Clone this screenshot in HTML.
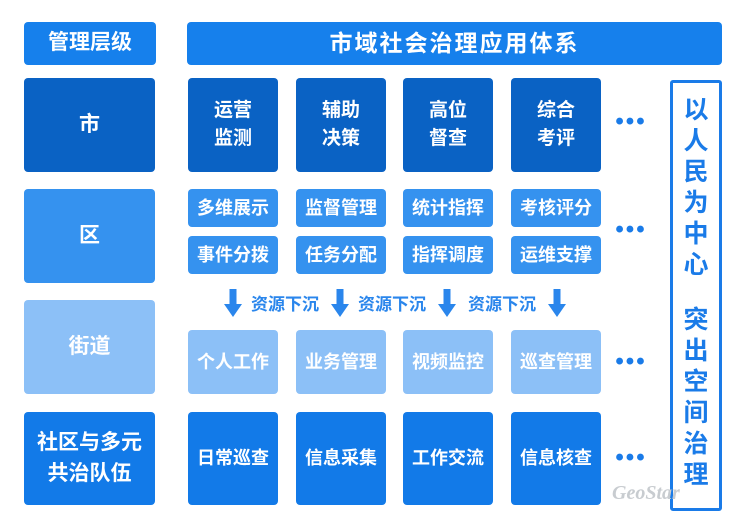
<!DOCTYPE html>
<html><head><meta charset="utf-8"><style>
body{margin:0;width:740px;height:521px;background:#fff;position:relative;overflow:hidden;font-family:"Liberation Sans","Noto Sans CJK SC",sans-serif;font-weight:bold}
.b{position:absolute;color:#fff;display:flex;align-items:center;justify-content:center;text-align:center;border-radius:4px;line-height:1.45}
.d{position:absolute;width:34px;text-align:center;color:#1a7be8;font-size:24px;letter-spacing:2px}
.a{position:absolute;top:289px;width:18px;height:28px}
.t{position:absolute;top:290px;color:#2a86ec;font-size:17px}
</style></head><body>
<div class="b" style="left:24px;top:22px;width:132px;height:43px;background:#1680ec;font-size:21px">管理层级</div>
<div class="b" style="left:187px;top:22px;width:535px;height:43px;background:#1680ec;font-size:23px;letter-spacing:2px">市域社会治理应用体系</div>

<div class="b" style="left:24px;top:78px;width:131px;height:94px;background:#0a62c4;font-size:21px">市</div>
<div class="b" style="left:24px;top:189px;width:131px;height:94px;background:#3592ef;font-size:21px">区</div>
<div class="b" style="left:24px;top:300px;width:131px;height:94px;background:#8cc0f7;font-size:21px">街道</div>
<div class="b" style="left:24px;top:412px;width:131px;height:93px;background:#127ae8;font-size:21px">社区与多元<br>共治队伍</div>

<div class="b" style="left:188px;top:78px;width:90px;height:94px;background:#0a62c4;font-size:19px">运营<br>监测</div>
<div class="b" style="left:296px;top:78px;width:90px;height:94px;background:#0a62c4;font-size:19px">辅助<br>决策</div>
<div class="b" style="left:403px;top:78px;width:90px;height:94px;background:#0a62c4;font-size:19px">高位<br>督查</div>
<div class="b" style="left:511px;top:78px;width:90px;height:94px;background:#0a62c4;font-size:19px">综合<br>考评</div>

<div class="b" style="left:188px;top:189px;width:90px;height:38px;background:#3592ef;font-size:18px">多维展示</div>
<div class="b" style="left:296px;top:189px;width:90px;height:38px;background:#3592ef;font-size:18px">监督管理</div>
<div class="b" style="left:403px;top:189px;width:90px;height:38px;background:#3592ef;font-size:18px">统计指挥</div>
<div class="b" style="left:511px;top:189px;width:90px;height:38px;background:#3592ef;font-size:18px">考核评分</div>
<div class="b" style="left:188px;top:236px;width:90px;height:38px;background:#3592ef;font-size:18px">事件分拨</div>
<div class="b" style="left:296px;top:236px;width:90px;height:38px;background:#3592ef;font-size:18px">任务分配</div>
<div class="b" style="left:403px;top:236px;width:90px;height:38px;background:#3592ef;font-size:18px">指挥调度</div>
<div class="b" style="left:511px;top:236px;width:90px;height:38px;background:#3592ef;font-size:18px">运维支撑</div>

<div class="b" style="left:188px;top:330px;width:90px;height:64px;background:#8cc0f7;font-size:18px">个人工作</div>
<div class="b" style="left:296px;top:330px;width:90px;height:64px;background:#8cc0f7;font-size:18px">业务管理</div>
<div class="b" style="left:403px;top:330px;width:90px;height:64px;background:#8cc0f7;font-size:18px">视频监控</div>
<div class="b" style="left:511px;top:330px;width:90px;height:64px;background:#8cc0f7;font-size:18px">巡查管理</div>

<div class="b" style="left:188px;top:412px;width:90px;height:93px;background:#127ae8;font-size:18px">日常巡查</div>
<div class="b" style="left:296px;top:412px;width:90px;height:93px;background:#127ae8;font-size:18px">信息采集</div>
<div class="b" style="left:403px;top:412px;width:90px;height:93px;background:#127ae8;font-size:18px">工作交流</div>
<div class="b" style="left:511px;top:412px;width:90px;height:93px;background:#127ae8;font-size:18px">信息核查</div>

<svg class="a" style="left:224px" viewBox="0 0 18 28"><path d="M5.5 0h7v15h5.5L9 28 0 15h5.5z" fill="#2a86ec"/></svg>
<svg class="a" style="left:331px" viewBox="0 0 18 28"><path d="M5.5 0h7v15h5.5L9 28 0 15h5.5z" fill="#2a86ec"/></svg>
<svg class="a" style="left:438px" viewBox="0 0 18 28"><path d="M5.5 0h7v15h5.5L9 28 0 15h5.5z" fill="#2a86ec"/></svg>
<svg class="a" style="left:548px" viewBox="0 0 18 28"><path d="M5.5 0h7v15h5.5L9 28 0 15h5.5z" fill="#2a86ec"/></svg>
<div class="t" style="left:251px">资源下沉</div>
<div class="t" style="left:358px">资源下沉</div>
<div class="t" style="left:468px">资源下沉</div>

<div class="d" style="left:614px;top:108px">•••</div>
<div class="d" style="left:614px;top:216px">•••</div>
<div class="d" style="left:614px;top:348px">•••</div>
<div class="d" style="left:614px;top:444px">•••</div>

<div style="position:absolute;left:670px;top:80px;width:46px;height:413px;border:3px solid #1a7be8;border-radius:3px;background:#fff;color:#1a7be8;font-size:25px;line-height:31px;text-align:center;padding-top:12px;box-sizing:content-box">以<br>人<br>民<br>为<br>中<br>心<div style="height:24px"></div>突<br>出<br>空<br>间<br>治<br>理</div>
<div style="position:absolute;left:612px;top:482px;color:#c8ccd0;font-size:20px;font-style:italic;font-family:'Liberation Serif',serif">GeoStar</div>
</body></html>
